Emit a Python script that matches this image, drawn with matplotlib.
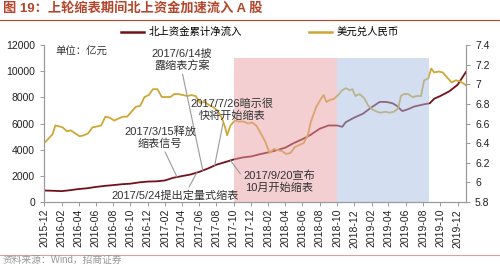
import matplotlib
matplotlib.use("Agg")
import matplotlib.pyplot as plt
import matplotlib.dates as mdates
from matplotlib.lines import Line2D
import pandas as pd

plt.rcParams["font.family"] = ["Liberation Sans", "Noto Sans CJK SC"]

# 北上资金累计净流入 (亿元)
flow_dates = [
    "2015-12-01", "2016-01-01", "2016-02-01", "2016-03-01", "2016-04-01", "2016-05-01",
    "2016-06-01", "2016-07-01", "2016-08-01", "2016-09-01", "2016-10-01", "2016-11-01",
    "2016-12-01", "2017-01-01", "2017-02-01", "2017-03-01", "2017-04-01", "2017-05-01",
    "2017-06-01", "2017-07-01", "2017-08-01", "2017-09-01", "2017-10-01", "2017-11-01",
    "2017-12-01", "2018-01-01", "2018-02-01", "2018-03-01", "2018-04-01", "2018-05-01",
    "2018-06-01", "2018-07-01", "2018-08-01", "2018-09-01", "2018-10-01", "2018-10-20",
    "2018-11-01", "2018-12-01", "2019-01-01", "2019-02-01", "2019-03-01", "2019-03-25",
    "2019-04-15", "2019-05-01", "2019-05-20", "2019-06-10", "2019-07-01", "2019-08-01",
    "2019-08-25", "2019-09-10", "2019-10-01", "2019-11-01", "2019-12-01", "2019-12-31",
]
flow_vals = [
    880, 860, 830, 900, 990, 1050,
    1150, 1230, 1290, 1360, 1400, 1500,
    1560, 1580, 1650, 1850, 1980, 2100,
    2300, 2550, 2850, 3050, 3250, 3400,
    3480, 3650, 3800, 3950, 4150, 4500,
    4800, 5150, 5600, 5850, 5850, 5750,
    6100, 6450, 6750, 7250, 7650, 7650,
    7550, 7350, 6950, 7100, 7300, 7450,
    7550, 7900, 8100, 8450, 8950, 9950,
]

# 美元兑人民币
fx_dates = [
    "2015-12-01", "2015-12-15", "2015-12-31", "2016-01-10", "2016-01-25", "2016-02-05",
    "2016-02-20", "2016-03-05", "2016-03-20", "2016-04-05", "2016-04-20", "2016-05-05",
    "2016-05-20", "2016-06-05", "2016-06-20", "2016-07-05", "2016-07-20", "2016-08-05",
    "2016-08-20", "2016-09-05", "2016-09-20", "2016-10-05", "2016-10-20", "2016-11-05",
    "2016-11-20", "2016-12-05", "2016-12-20", "2017-01-05", "2017-01-20", "2017-02-05",
    "2017-02-20", "2017-03-05", "2017-03-20", "2017-04-05", "2017-04-20", "2017-05-05",
    "2017-05-20", "2017-06-05", "2017-06-20", "2017-07-05", "2017-07-20", "2017-08-05",
    "2017-08-20", "2017-09-01", "2017-09-08", "2017-09-20", "2017-10-05", "2017-10-20",
    "2017-11-05", "2017-11-20", "2017-12-05", "2017-12-20", "2018-01-05", "2018-01-20",
    "2018-02-05", "2018-02-20", "2018-03-05", "2018-03-20", "2018-04-05", "2018-04-20",
    "2018-05-05", "2018-05-20", "2018-06-05", "2018-06-20", "2018-07-01", "2018-07-20",
    "2018-08-05", "2018-08-15", "2018-08-25", "2018-09-05", "2018-09-20", "2018-10-05",
    "2018-10-20", "2018-11-01", "2018-11-15", "2018-11-25", "2018-12-05", "2018-12-20",
    "2019-01-05", "2019-01-20", "2019-02-05", "2019-02-20", "2019-03-05", "2019-03-20",
    "2019-04-05", "2019-04-20", "2019-05-05", "2019-05-15", "2019-05-25", "2019-06-10",
    "2019-06-25", "2019-07-10", "2019-07-25", "2019-08-05", "2019-08-20", "2019-08-30",
    "2019-09-10", "2019-09-25", "2019-10-10", "2019-10-25", "2019-11-10", "2019-11-25",
    "2019-12-10", "2019-12-31",
]
fx_vals = [
    6.40, 6.44, 6.49, 6.58, 6.57, 6.56,
    6.52, 6.53, 6.50, 6.47, 6.48, 6.50,
    6.56, 6.57, 6.58, 6.67, 6.66, 6.63,
    6.65, 6.67, 6.67, 6.72, 6.77, 6.78,
    6.87, 6.89, 6.95, 6.95, 6.87, 6.87,
    6.87, 6.90, 6.90, 6.89, 6.88, 6.89,
    6.88, 6.81, 6.82, 6.79, 6.77, 6.73,
    6.66, 6.56, 6.48, 6.58, 6.63, 6.62,
    6.62, 6.60, 6.61, 6.58, 6.50, 6.42,
    6.30, 6.34, 6.33, 6.32, 6.29, 6.30,
    6.36, 6.38, 6.40, 6.48, 6.62, 6.77,
    6.85, 6.89, 6.82, 6.84, 6.85, 6.89,
    6.94, 6.96, 6.94, 6.95, 6.88, 6.90,
    6.86, 6.78, 6.74, 6.72, 6.71, 6.72,
    6.71, 6.72, 6.75, 6.88, 6.90, 6.90,
    6.87, 6.88, 6.88, 7.04, 7.06, 7.16,
    7.12, 7.13, 7.12, 7.07, 7.02, 7.04,
    7.03, 6.99,
]

# 缩表阶段 (shaded periods)
spans = [("2017-10-01", "2018-10-01", "#E8A0A4"), ("2018-10-01", "2019-08-21", "#A8C0E4")]

# annotations: text, event date, text position (axes fraction), arrow start on text box
notes = [
    ("2017/6/14披\n露缩表方案", "2017-06-14", (0.327, 0.905), (0.5, 0.0)),
    ("2017/3/15释放\n缩表信号", "2017-03-15", (0.275, 0.41), (0.55, 0.0)),
    ("2017/5/24提出定量式缩表", "2017-05-24", (0.31, 0.044), (0.6, 1.0)),
    ("2017/7/26暗示很\n快将开始缩表", "2017-07-26", (0.445, 0.589), (0.4, 0.0)),
    ("2017/9/20宣布\n10月开始缩表", "2017-09-20", (0.557, 0.127), (0.0, 0.7)),
]

RED = "#74101A"
GOLD = "#CFA736"
TITLE_C = "#B5452A"
GRID_C = "#9A9A9A"

flow_x = pd.to_datetime(flow_dates)
fx_x = pd.to_datetime(fx_dates)
flow_s = pd.Series(flow_vals, index=flow_x)

fig = plt.figure(figsize=(5.0, 2.67), dpi=100)
ax = fig.add_axes([0.088, 0.2434, 0.844, 0.588])
ax2 = ax.twinx()

ax.plot(flow_x, flow_vals, color=RED, lw=1.3, zorder=2)
ax2.plot(fx_x, fx_vals, color=GOLD, lw=1.3, zorder=2)

for start, end, c in spans:
    ax2.axvspan(pd.Timestamp(start), pd.Timestamp(end), ymin=0, ymax=11000 / 12000,
                color=c, alpha=0.5, lw=0, zorder=3)

ax.set_ylim(0, 12000)
ax.set_yticks(range(0, 12001, 2000))
ax2.set_ylim(5.8, 7.4)
ax2.set_yticks([5.8, 6.0, 6.2, 6.4, 6.6, 6.8, 7.0, 7.2, 7.4])
ax2.set_yticklabels(["5.8", "6", "6.2", "6.4", "6.6", "6.8", "7", "7.2", "7.4"])
ax.set_xlim(pd.Timestamp("2015-12-01"), pd.Timestamp("2019-12-31"))

ticks = pd.date_range("2015-12-01", "2019-12-01", freq="2MS")
ax.set_xticks(ticks)
ax.set_xticklabels([t.strftime("%Y-%m") for t in ticks], rotation=90, fontsize=7.5)

for a in (ax, ax2):
    a.spines["top"].set_visible(False)
    for s in ("left", "right", "bottom"):
        a.spines[s].set_color(GRID_C)
        a.spines[s].set_linewidth(0.8)
    a.tick_params(colors="#222222", labelsize=7.5, length=3, width=0.7)
    a.tick_params(axis="both", color=GRID_C)
ax.tick_params(axis="x", labelsize=7.5, pad=2)

ax2.text(0.026, 0.956, "单位：亿元", transform=ax.transAxes, fontsize=7.5,
         color="#333333", ha="left", va="center", zorder=6)

for txt, d, pos, rel in notes:
    d = pd.Timestamp(d)
    yv = float(flow_s.reindex(flow_s.index.union([d])).interpolate("time")[d])
    ax2.annotate(txt, xy=(mdates.date2num(d), yv), xycoords=ax.transData,
                 xytext=pos, textcoords="axes fraction",
                 ha="center", va="center", fontsize=8, color="#333333",
                 linespacing=1.2, zorder=6,
                 arrowprops=dict(arrowstyle="-", color=GRID_C, lw=0.8,
                                 shrinkA=0, shrinkB=0, relpos=rel))

handles = [Line2D([], [], color=RED, lw=1.8), Line2D([], [], color=GOLD, lw=1.8)]
fig.legend(handles, ["北上资金累计净流入", "美元兑人民币"], loc="center",
           bbox_to_anchor=(0.52, 0.88), ncol=2, frameon=False, fontsize=7.5,
           handlelength=2.2, handletextpad=0.4, columnspacing=6.5)

fig.text(0.006, 0.968, "图 19：上轮缩表期间北上资金加速流入 A 股", fontsize=9.5,
         fontweight="bold", color=TITLE_C, ha="left", va="center")
fig.add_artist(Line2D([0, 1], [0.925, 0.925], color=TITLE_C, lw=0.8,
                      transform=fig.transFigure))
fig.add_artist(Line2D([0, 1], [0.045, 0.045], color="#D9A0A0", lw=0.8,
                      transform=fig.transFigure))
fig.text(0.006, 0.025, "资料来源：Wind，招商证券", fontsize=7, color="#999999",
         ha="left", va="center")

fig.savefig("out.png", dpi=100)
